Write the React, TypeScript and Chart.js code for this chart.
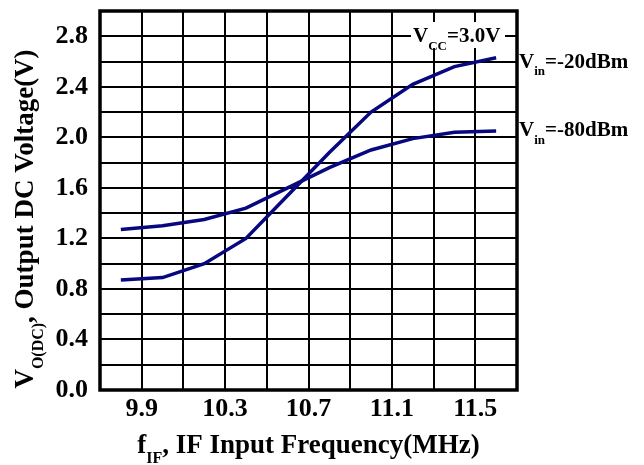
import React, { useEffect, useRef } from "react";
import { Chart, registerables } from "chart.js";

Chart.register(...registerables);

// ---- data ----
const frequencies = [9.8, 10.0, 10.2, 10.4, 10.6, 10.8, 11.0, 11.2, 11.4, 11.6];
const vin20Values = [0.87, 0.89, 1.0, 1.2, 1.54, 1.88, 2.2, 2.42, 2.56, 2.63];
const vin80Values = [1.27, 1.3, 1.35, 1.44, 1.6, 1.76, 1.9, 1.99, 2.04, 2.05];

const xGridTicks = [9.7, 9.9, 10.1, 10.3, 10.5, 10.7, 10.9, 11.1, 11.3, 11.5, 11.7];
const xTickLabels = ["9.9", "10.3", "10.7", "11.1", "11.5"];
const yGridTicks = [0, 0.2, 0.4, 0.6, 0.8, 1.0, 1.2, 1.4, 1.6, 1.8, 2.0, 2.2, 2.4, 2.6, 2.8, 3.0];
const yTickLabels = ["0.0", "0.4", "0.8", "1.2", "1.6", "2.0", "2.4", "2.8"];

const series20Label = ["V", "in", "=-20dBm"];
const series80Label = ["V", "in", "=-80dBm"];
const vccLabel = ["V", "CC", "=3.0V"];
const xTitle = ["f", "IF", ", IF Input Frequency(MHz)"];
const yTitle = ["V", "O(DC)", ", Output DC Voltage(V)"];

const FONT = "'Liberation Serif', 'Times New Roman', serif";
const LINE_COLOR = "#07077f";

type Part = { t: string; sub?: boolean };
const toParts = (a: string[]): Part[] => [
  { t: a[0] },
  { t: a[1], sub: true },
  { t: a[2] },
];

function drawRich(
  ctx: CanvasRenderingContext2D,
  parts: Part[],
  x: number,
  y: number,
  size: number,
  align: "left" | "center"
) {
  const subSize = Math.round(size * 0.6);
  const mainFont = `bold ${size}px ${FONT}`;
  const subFont = `bold ${subSize}px ${FONT}`;
  let total = 0;
  const widths: number[] = [];
  for (const p of parts) {
    ctx.font = p.sub ? subFont : mainFont;
    const w = ctx.measureText(p.t).width;
    widths.push(w);
    total += w;
  }
  ctx.save();
  ctx.translate(x, y);
  ctx.fillStyle = "#000";
  ctx.textBaseline = "alphabetic";
  ctx.textAlign = "left";
  let cx = align === "center" ? -total / 2 : 0;
  parts.forEach((p, i) => {
    ctx.font = p.sub ? subFont : mainFont;
    ctx.fillText(p.t, cx, p.sub ? size * 0.36 : 0);
    cx += widths[i];
  });
  ctx.restore();
}

const decorPlugin = {
  id: "decor",
  afterDatasetsDraw(chart: any) {
    const { ctx, chartArea } = chart;
    const ys = chart.scales.y;
    // frame
    ctx.save();
    ctx.strokeStyle = "#000";
    ctx.lineWidth = 3.5;
    ctx.strokeRect(
      chartArea.left,
      chartArea.top,
      chartArea.right - chartArea.left,
      chartArea.bottom - chartArea.top
    );
    // Vcc annotation box
    ctx.fillStyle = "#fff";
    ctx.fillRect(411, 22, 94, 26);
    ctx.restore();
    drawRich(ctx, toParts(vccLabel), 413, 42, 21, "left");

    // series labels at right side, next to the line ends
    const n = frequencies.length - 1;
    const y20 = ys.getPixelForValue(vin20Values[n]);
    const y80 = ys.getPixelForValue(vin80Values[n]);
    drawRich(ctx, toParts(series20Label), chartArea.right + 2, y20 + 10, 21, "left");
    drawRich(ctx, toParts(series80Label), chartArea.right + 2, y80 + 5, 21, "left");

    // axis titles
    const cxMid = (chartArea.left + chartArea.right) / 2;
    drawRich(ctx, toParts(xTitle), cxMid, 453, 27, "center");
    ctx.save();
    ctx.translate(33, 219);
    ctx.rotate(-Math.PI / 2);
    drawRich(ctx, toParts(yTitle), 0, 0, 27, "center");
    ctx.restore();
  },
};

export default function App() {
  const ref = useRef<HTMLCanvasElement | null>(null);
  useEffect(() => {
    if (!ref.current) return;
    const chart = new Chart(ref.current, {
      type: "line",
      data: {
        labels: frequencies,
        datasets: [
          {
            label: "Vin=-20dBm",
            data: frequencies.map((f, i) => ({ x: f, y: vin20Values[i] })),
            borderColor: LINE_COLOR,
            borderWidth: 3.5,
            pointRadius: 0,
            tension: 0,
          },
          {
            label: "Vin=-80dBm",
            data: frequencies.map((f, i) => ({ x: f, y: vin80Values[i] })),
            borderColor: LINE_COLOR,
            borderWidth: 3.5,
            pointRadius: 0,
            tension: 0,
          },
        ],
      },
      options: {
        animation: false,
        responsive: true,
        maintainAspectRatio: false,
        layout: {
          autoPadding: false,
          padding: { left: 0, top: 11, right: 127, bottom: 0 },
        },
        plugins: {
          legend: { display: false },
          title: { display: false },
          tooltip: { enabled: false },
        },
        scales: {
          x: {
            type: "linear",
            min: xGridTicks[0],
            max: xGridTicks[xGridTicks.length - 1],
            afterBuildTicks: (scale: any) => {
              scale.ticks = xGridTicks.map((v) => ({ value: v }));
            },
            afterFit: (scale: any) => {
              scale.height = 75;
              scale.paddingLeft = 0;
              scale.paddingRight = 0;
            },
            grid: { color: "#000", lineWidth: 2, drawTicks: false },
            border: { display: false },
            ticks: {
              autoSkip: false,
              maxRotation: 0,
              padding: 4,
              color: "#000",
              font: { family: FONT, size: 26, weight: "bold" },
              callback: (v: any) => {
                const s = Number(v).toFixed(1);
                return xTickLabels.includes(s) ? s : "";
              },
            },
          },
          y: {
            type: "linear",
            min: yGridTicks[0],
            max: yGridTicks[yGridTicks.length - 1],
            afterBuildTicks: (scale: any) => {
              scale.ticks = yGridTicks.map((v) => ({ value: v }));
            },
            afterFit: (scale: any) => {
              scale.width = 100;
              scale.paddingTop = 0;
              scale.paddingBottom = 0;
            },
            grid: { color: "#000", lineWidth: 2, drawTicks: false },
            border: { display: false },
            ticks: {
              autoSkip: false,
              padding: 12,
              color: "#000",
              font: { family: FONT, size: 26, weight: "bold" },
              callback: (v: any) => {
                const s = Number(v).toFixed(1);
                return yTickLabels.includes(s) ? s : "";
              },
            },
          },
        },
      },
      plugins: [decorPlugin],
    });
    return () => chart.destroy();
  }, []);
  return (
    <div style={{ position: "absolute", left: 0, top: 0, width: 644, height: 465, background: "#fff" }}>
      <canvas ref={ref} />
    </div>
  );
}
